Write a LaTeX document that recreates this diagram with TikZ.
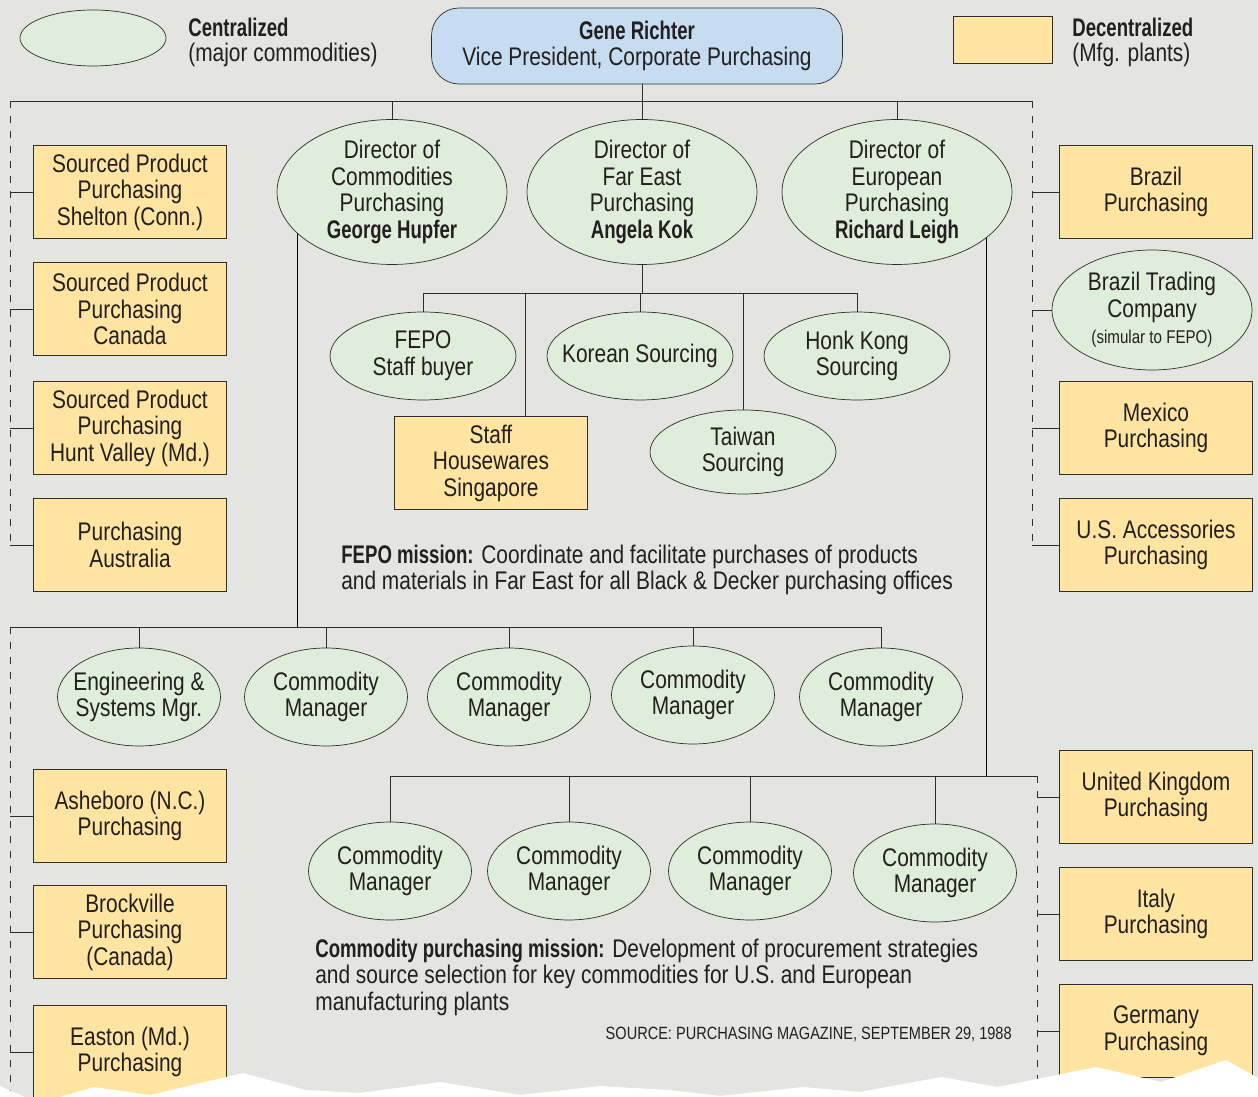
\documentclass[tikz,border=0pt]{standalone}
\usepackage{fontspec}
\setmainfont{Liberation Sans}[FakeStretch=0.82, BoldFeatures={FakeStretch=0.73}]
\usetikzlibrary{shapes.geometric,backgrounds}

\definecolor{pagegray}{HTML}{E4E4E0}
\definecolor{centralgreen}{HTML}{DFEEDA}
\definecolor{plantyellow}{HTML}{FFE5A1}
\definecolor{vpblue}{HTML}{C6DCF0}
\definecolor{linegray}{HTML}{2E2E2E}
\definecolor{inkdark}{HTML}{231F20}

\begin{document}
\begin{tikzpicture}[x=0.02cm, y=-0.02cm, color=linegray, text=inkdark, line width=0.9pt,
  font=\fontsize{14.5}{15.1}\selectfont]
  % Define styles
  \tikzstyle{central} = [ellipse, draw, fill=centralgreen, align=center, inner sep=0pt]
  \tikzstyle{director} = [central, minimum width=4.6cm, minimum height=2.9cm, inner ysep=-2pt]
  \tikzstyle{sourcing} = [central, minimum width=3.72cm, minimum height=1.76cm, inner xsep=-0.4cm]
  \tikzstyle{manager} = [central, minimum width=3.26cm, minimum height=1.96cm, inner xsep=-0.4cm]
  \tikzstyle{plant} = [rectangle, draw, fill=plantyellow, align=center, minimum width=3.86cm, minimum height=1.86cm, inner sep=0pt]
  \tikzstyle{vp} = [rectangle, draw, fill=vpblue, rounded corners=0.55cm, align=center, minimum width=8.22cm, minimum height=1.52cm]
  \tikzstyle{dashlink} = [dash pattern=on 4pt off 4.5pt]
  \tikzstyle{mission} = [anchor=west, align=left, inner sep=0pt]

  \useasboundingbox (0,0) rectangle (1258,1097);
  \begin{pgfonlayer}{background}
    \fill[pagegray] (0,0) rectangle (1258,1097);
  \end{pgfonlayer}

  % Legend
  \node[central, minimum width=2.92cm, minimum height=1.12cm] (legcentral) at (93,38) {};
  \node[anchor=base west, inner sep=0pt] (legcentralhead) at (188,37) {\textbf{Centralized}};
  \node[anchor=base west, inner sep=0pt] (legcentralnote) at (188,62) {(major commodities)};
  \node[plant, minimum width=1.98cm, minimum height=0.94cm] (legplant) at (1003,40) {};
  \node[anchor=base west, inner sep=0pt] (legplanthead) at (1072,37) {\textbf{Decentralized}};
  \node[anchor=base west, inner sep=0pt] (legplantnote) at (1072,62) {(Mfg. plants)};

  % Vice president
  \node[vp] (vp) at (637,46) {\textbf{Gene Richter}\\Vice President, Corporate Purchasing};

  % Directors
  \node[director] (dircom) at (392,192) {Director of\\Commodities\\Purchasing\\\textbf{George Hupfer}};
  \node[director] (dirfe) at (642,192) {Director of\\Far East\\Purchasing\\\textbf{Angela Kok}};
  \node[director] (direu) at (897,192) {Director of\\European\\Purchasing\\\textbf{Richard Leigh}};

  % Plants, left (upper)
  \node[plant] (shelton) at (130,192) {Sourced Product\\Purchasing\\Shelton (Conn.)};
  \node[plant] (canada) at (130,309) {Sourced Product\\Purchasing\\Canada};
  \node[plant] (huntvalley) at (130,428) {Sourced Product\\Purchasing\\Hunt Valley (Md.)};
  \node[plant] (australia) at (130,545) {Purchasing\\Australia};

  % Plants, right (upper)
  \node[plant] (brazil) at (1156,192) {Brazil\\Purchasing};
  \node[central, minimum width=4.0cm, minimum height=2.4cm, inner ysep=-2pt] (braziltrade) at (1152,310)
    {Brazil Trading\\Company\\{\fontsize{10.5}{12}\selectfont (simular to FEPO)}};
  \node[plant] (mexico) at (1156,428) {Mexico\\Purchasing};
  \node[plant] (usacc) at (1156,545) {U.S. Accessories\\Purchasing};

  % Far East offices
  \node[sourcing] (fepo) at (423,356) {FEPO\\Staff buyer};
  \node[sourcing] (korea) at (640,356) {Korean Sourcing};
  \node[sourcing] (hongkong) at (857,356) {Honk Kong\\Sourcing};
  \node[plant] (staff) at (491,463) {Staff\\Housewares\\Singapore};
  \node[sourcing, minimum height=1.68cm] (taiwan) at (743,452) {Taiwan\\Sourcing};

  \node[mission] (fepomission) at (341,570) {\textbf{FEPO mission:} Coordinate and facilitate purchases of products\\and materials in Far East for all Black \& Decker purchasing offices};

  % Commodity managers (US)
  \node[manager] (engsys) at (139,697) {Engineering \&\\Systems Mgr.};
  \node[manager] (mgra) at (326,697) {Commodity\\Manager};
  \node[manager] (mgrb) at (509,697) {Commodity\\Manager};
  \node[manager] (mgrc) at (693,695) {Commodity\\Manager};
  \node[manager] (mgrd) at (881,697) {Commodity\\Manager};

  % Commodity managers (Europe)
  \node[manager] (mgre) at (390,871) {Commodity\\Manager};
  \node[manager] (mgrf) at (569,871) {Commodity\\Manager};
  \node[manager] (mgrg) at (750,871) {Commodity\\Manager};
  \node[manager] (mgrh) at (935,873) {Commodity\\Manager};

  % Plants, left (lower)
  \node[plant] (asheboro) at (130,816) {Asheboro (N.C.)\\Purchasing};
  \node[plant] (brockville) at (130,932) {Brockville\\Purchasing\\(Canada)};
  \node[plant] (easton) at (130,1052) {Easton (Md.)\\Purchasing};

  % Plants, right (lower)
  \node[plant] (uk) at (1156,797) {United Kingdom\\Purchasing};
  \node[plant] (italy) at (1156,914) {Italy\\Purchasing};
  \node[plant] (germany) at (1156,1031) {Germany\\Purchasing};

  \node[mission] (commission) at (315,977) {\textbf{Commodity purchasing mission:} Development of procurement strategies\\and source selection for key commodities for U.S. and European\\manufacturing plants};
  \node[anchor=east, inner sep=0pt, font=\fontsize{10.1}{12}\selectfont] (source) at (1012,1034) {SOURCE: PURCHASING MAGAZINE, SEPTEMBER 29, 1988};

  % Connections - top level
  \coordinate (busW) at (10,101);
  \coordinate (busE) at (1032,101);
  \draw (busW) -- (busE);
  \draw (dirfe.north |- vp.south) -- (dirfe.north);
  \draw (dircom.north |- busW) -- (dircom.north);
  \draw (direu.north |- busW) -- (direu.north);

  % Dashed links to plants (upper)
  \draw[dashlink] (busW) -- (busW |- australia.west);
  \draw[dashlink] (busE) -- (busE |- usacc.west);
  \foreach \p in {shelton, canada, huntvalley, australia}
    \draw (\p.west) -- (\p.west -| busW);
  \foreach \p in {brazil, braziltrade, mexico, usacc}
    \draw (\p.west) -- (\p.west -| busE);

  % Far East tree
  \coordinate (fejoin) at (642,293);
  \coordinate (stafftap) at (525,293);
  \draw (dirfe.south) -- (fejoin);
  \draw (fepo.north) -- (fepo.north |- fejoin) -- (hongkong.north |- fejoin) -- (hongkong.north);
  \draw (korea.north) -- (korea.north |- fejoin);
  \draw (stafftap) -- (stafftap |- staff.north);
  \draw (taiwan.north) -- (taiwan.north |- fejoin);

  % Commodities tree
  \coordinate (comjoin) at (297,627);
  \coordinate (midbusW) at (10,627);
  \coordinate (midbusEnd) at (10,1097);
  \begin{pgfonlayer}{background}
    \draw (comjoin) -- (comjoin |- dircom.center);
  \end{pgfonlayer}
  \draw (midbusW) -- (mgrd.north |- midbusW) -- (mgrd.north);
  \foreach \m in {engsys, mgra, mgrb, mgrc}
    \draw (\m.north) -- (\m.north |- midbusW);
  \draw[dashlink] (midbusW) -- (midbusEnd);
  \foreach \p in {asheboro, brockville, easton}
    \draw (\p.west) -- (\p.west -| midbusW);

  % European tree
  \coordinate (eujoin) at (986,776);
  \coordinate (lowbusE) at (1037,776);
  \coordinate (lowbusEnd) at (1037,1097);
  \begin{pgfonlayer}{background}
    \draw (eujoin) -- (eujoin |- direu.center);
  \end{pgfonlayer}
  \draw (mgre.north) |- (lowbusE);
  \foreach \m in {mgrf, mgrg, mgrh}
    \draw (\m.north) -- (\m.north |- lowbusE);
  \draw[dashlink] (lowbusE) -- (lowbusEnd);
  \foreach \p in {uk, italy, germany}
    \draw (\p.west) -- (\p.west -| lowbusE);

  % Torn bottom edge
  \fill[white] (0,1097) -- (0,1086) -- (25,1097) -- (60,1097) -- (94,1087) -- (150,1095)
    -- (243,1073) -- (306,1090) -- (360,1093) -- (440,1082) -- (520,1095) -- (600,1086)
    -- (669,1090) -- (720,1096) -- (803,1087) -- (860,1092) -- (941,1077) -- (998,1087)
    -- (1096,1067) -- (1161,1082) -- (1226,1060) -- (1258,1078) -- (1258,1097) -- cycle;

\end{tikzpicture}
\end{document}
